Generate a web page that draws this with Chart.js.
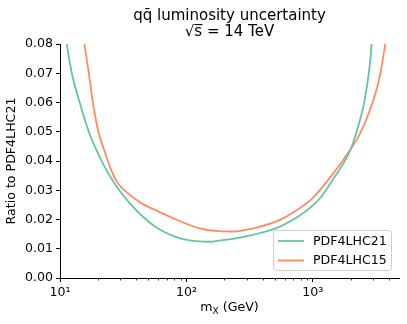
<!DOCTYPE html>
<html>
<head>
<meta charset="utf-8">
<script src="https://cdn.jsdelivr.net/npm/chart.js@4.4.0/dist/chart.umd.min.js"></script>
<style>
  html, body { margin: 0; padding: 0; background: #fff; }
  canvas { display: block; }
</style>
</head>
<body>
<canvas id="lumiChart" width="407" height="324"></canvas>
<script>
// values (m_X in GeV, ratio to PDF4LHC21)
const mass21 = [11.3, 12.4, 14.3, 16.9, 19.4, 22.5, 27.0, 32.4, 38.8, 46.5, 55.7, 66.9, 80.2, 96.2, 127, 152, 182, 218, 262, 378, 543, 782, 938, 1125, 1436, 1968, 2259, 2553, 2800, 2918]
const ratio21 = [0.080, 0.070, 0.060, 0.050, 0.0438, 0.0381, 0.0323, 0.0277, 0.0238, 0.0205, 0.0178, 0.0157, 0.0142, 0.0132, 0.0125, 0.0124, 0.0128, 0.0132, 0.0138, 0.0153, 0.0175, 0.0213, 0.0238, 0.0270, 0.0336, 0.0435, 0.0512, 0.0603, 0.0717, 0.080]

const mass15 = [15.6, 16.9, 18.2, 20.1, 22.2, 25.4, 28.6, 34.4, 43.8, 55.8, 88.1, 127, 182, 240, 300, 378, 543, 782, 990, 1436, 1968, 2333, 2797, 3357, 3742]
const ratio15 = [0.080, 0.070, 0.060, 0.050, 0.0441, 0.0369, 0.0325, 0.0290, 0.0256, 0.0234, 0.0195, 0.0170, 0.0160, 0.0159, 0.0165, 0.0175, 0.0198, 0.0238, 0.0272, 0.0355, 0.0438, 0.0489, 0.0569, 0.0683, 0.080]

const seriesNames = ['PDF4LHC21', 'PDF4LHC15']
const seriesColors = ['#66c2a5', '#fc8d62']

const xMajorTicks = [10, 100, 1000]
const xTickLabels = ['10\u00b9', '10\u00b2', '10\u00b3']
const xMinorTicks = [20, 30, 40, 50, 60, 70, 80, 90, 200, 300, 400, 500, 600, 700, 800, 900, 2000, 3000, 4000]

const FONT = 'DejaVu Sans'
const FS = 12.6

const toPoints = (xs, ys) => xs.map((x, i) => ({ x: x, y: ys[i] }))

// minor ticks (shorter) on the log axis
const minorTickPlugin = {
    id: 'minorTicks',
    afterDraw(chart) {
        const ctx = chart.ctx
        const xs = chart.scales.x
        const bottom = chart.chartArea.bottom
        ctx.save()
        ctx.strokeStyle = '#000'
        ctx.lineWidth = 0.8
        xMinorTicks.forEach((v) => {
            const px = Math.round(xs.getPixelForValue(v)) + 0.5
            ctx.beginPath()
            ctx.moveTo(px, bottom)
            ctx.lineTo(px, bottom + 2.5)
            ctx.stroke()
        })
        ctx.restore()
    }
}

// x axis title with subscript X
const xTitlePlugin = {
    id: 'xTitle',
    afterDraw(chart) {
        const ctx = chart.ctx
        const area = chart.chartArea
        const base = 311
        const big = FS + 'px "' + FONT + '"'
        const small = '9px "' + FONT + '"'
        ctx.save()
        ctx.fillStyle = '#000'
        ctx.textBaseline = 'alphabetic'
        ctx.textAlign = 'left'
        ctx.font = big
        const wm = ctx.measureText('m').width
        const wrest = ctx.measureText(' (GeV)').width
        ctx.font = small
        const wx = ctx.measureText('X').width
        let x = (area.left + area.right) / 2 - (wm + wx + wrest) / 2
        ctx.font = big
        ctx.fillText('m', x, base)
        x += wm
        ctx.font = small
        ctx.fillText('X', x, base + 2.5)
        x += wx
        ctx.font = big
        ctx.fillText(' (GeV)', x, base)
        ctx.restore()
    }
}

// matplotlib-like legend in the lower right corner
const legendPlugin = {
    id: 'mplLegend',
    afterDraw(chart) {
        const ctx = chart.ctx
        const left = 273.5, top = 230.5, w = 118, h = 40, r = 3
        ctx.save()
        ctx.beginPath()
        ctx.roundRect(left, top, w, h, r)
        ctx.fillStyle = 'rgba(255,255,255,0.8)'
        ctx.fill()
        ctx.strokeStyle = '#cccccc'
        ctx.lineWidth = 1
        ctx.stroke()
        ctx.font = FS + 'px "' + FONT + '"'
        ctx.textBaseline = 'middle'
        ctx.textAlign = 'left'
        seriesNames.forEach((name, i) => {
            const y = 241 + i * 19.5
            ctx.strokeStyle = seriesColors[i]
            ctx.lineWidth = 1.8
            ctx.beginPath()
            ctx.moveTo(278, y)
            ctx.lineTo(304, y)
            ctx.stroke()
            ctx.fillStyle = '#000'
            ctx.fillText(name, 313, y + 0.5)
        })
        ctx.restore()
    }
}

const dataLumi = {
    datasets: [{
        label: seriesNames[0],
        data: toPoints(mass21, ratio21),
        borderColor: seriesColors[0],
        backgroundColor: seriesColors[0],
        borderWidth: 1.8,
        pointRadius: 0,
        cubicInterpolationMode: 'monotone',
        fill: false
    }, {
        label: seriesNames[1],
        data: toPoints(mass15, ratio15),
        borderColor: seriesColors[1],
        backgroundColor: seriesColors[1],
        borderWidth: 1.8,
        pointRadius: 0,
        cubicInterpolationMode: 'monotone',
        fill: false
    }]
}

const configLumi = {
    type: 'line',
    data: dataLumi,
    options: {
        responsive: false,
        animation: false,
        devicePixelRatio: 1,
        layout: { padding: { left: 0, right: 8, top: 0, bottom: 0 } },
        plugins: {
            legend: { display: false },
            tooltip: { enabled: false },
            title: {
                display: true,
                fullSize: false,
                text: ['q\u0071\u0304 luminosity uncertainty', '\u221as\u0305 = 14 TeV'],
                color: '#000',
                font: { family: FONT, size: 15, weight: 'normal', lineHeight: 1.1 },
                padding: { top: 7.75, bottom: 3.25 }
            }
        },
        scales: {
            x: {
                type: 'logarithmic',
                min: 10,
                max: 4800,
                afterBuildTicks: (scale) => {
                    scale.ticks = xMajorTicks.map((v) => ({ value: v, major: true }))
                },
                afterFit: (scale) => { scale.height = 46 },
                border: { color: '#000', width: 1 },
                grid: { display: true, drawOnChartArea: false, drawTicks: true, tickLength: 4, tickColor: '#000', tickWidth: 1 },
                ticks: {
                    color: '#000',
                    padding: 3,
                    maxRotation: 0,
                    autoSkip: false,
                    font: { family: FONT, size: FS },
                    callback: (value) => {
                        const i = xMajorTicks.indexOf(value)
                        return i >= 0 ? xTickLabels[i] : ''
                    }
                },
                title: { display: false }
            },
            y: {
                min: 0,
                max: 0.08,
                afterFit: (scale) => { scale.width = 60 },
                border: { color: '#000', width: 1 },
                grid: { display: true, drawOnChartArea: false, drawTicks: true, tickLength: 4, tickColor: '#000', tickWidth: 1 },
                ticks: {
                    stepSize: 0.01,
                    color: '#000',
                    padding: 3,
                    font: { family: FONT, size: FS },
                    callback: (value) => value.toFixed(2)
                },
                title: {
                    display: true,
                    text: 'Ratio to PDF4LHC21',
                    color: '#000',
                    font: { family: FONT, size: FS },
                    padding: { top: 4, bottom: 0 }
                }
            }
        }
    },
    plugins: [minorTickPlugin, xTitlePlugin, legendPlugin]
}

const LumiChart = new Chart(
    document.getElementById('lumiChart'),
    configLumi
)
</script>
</body>
</html>
